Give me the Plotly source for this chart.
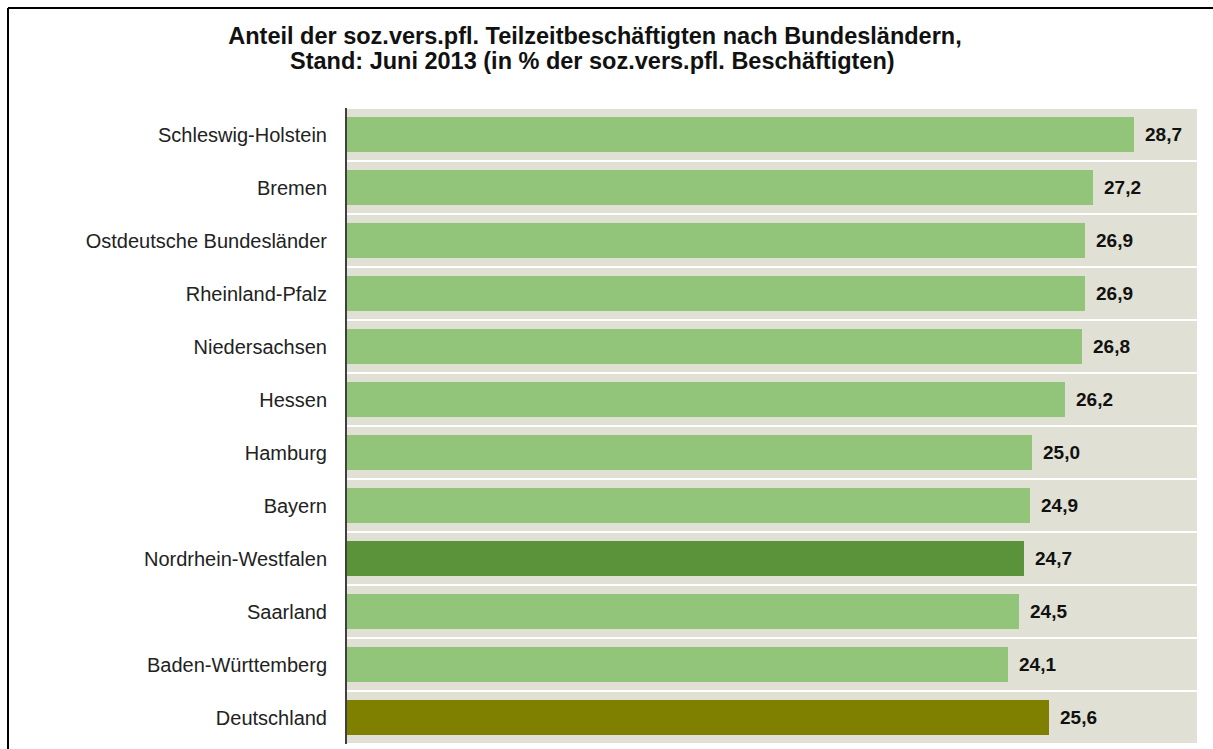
import plotly.graph_objects as go

categories = ["Schleswig-Holstein", "Bremen", "Ostdeutsche Bundesländer", "Rheinland-Pfalz",
              "Niedersachsen", "Hessen", "Hamburg", "Bayern", "Nordrhein-Westfalen",
              "Saarland", "Baden-Württemberg", "Deutschland"]
values = [28.7, 27.2, 26.9, 26.9, 26.8, 26.2, 25.0, 24.9, 24.7, 24.5, 24.1, 25.6]
value_labels = ["28,7", "27,2", "26,9", "26,9", "26,8", "26,2", "25,0", "24,9", "24,7", "24,5", "24,1", "25,6"]
title_line1 = "Anteil der soz.vers.pfl. Teilzeitbeschäftigten nach Bundesländern,"
title_line2 = "Stand: Juni 2013 (in % der soz.vers.pfl. Beschäftigten)"

LIGHT = "#92c57a"
DARK = "#5b933b"
OLIVE = "#808000"
bar_colors = [DARK if c == "Nordrhein-Westfalen" else OLIVE if c == "Deutschland" else LIGHT
              for c in categories]

X_MAX = 31
W, H = 1213, 749
ML, MR, MT, MB = 347, 16, 108, 5
FONT = "Liberation Sans, Arial, sans-serif"
TITLE_FONT = dict(family=FONT, size=23.5, color="#111111", weight="bold")

fig = go.Figure()
fig.add_trace(go.Bar(
    y=categories, x=[X_MAX] * len(categories), orientation="h",
    width=0.95, marker=dict(color="#e0e0d4", line=dict(width=0)),
    hoverinfo="skip", showlegend=False))
fig.add_trace(go.Bar(
    y=categories, x=values, orientation="h",
    width=0.65, marker=dict(color=bar_colors, line=dict(width=0)),
    showlegend=False))

for c, v, t in zip(categories, values, value_labels):
    fig.add_annotation(x=v, y=c, text=t, showarrow=False, xanchor="left", xshift=9,
                       font=dict(family=FONT, size=19, color="#111111", weight="bold"))

pw = W - ML - MR
ph = H - MT - MB
bx = (8 - ML) / pw
by = (H - MB - 8) / ph
fig.add_shape(type="line", xref="paper", yref="paper", x0=bx, x1=(W - ML) / pw + 0.01, y0=by, y1=by,
              line=dict(color="black", width=2))
fig.add_shape(type="line", xref="paper", yref="paper", x0=bx, x1=bx, y0=by, y1=-0.1,
              line=dict(color="black", width=2))

# second title line
fig.add_annotation(xref="paper", yref="paper", x=(592 - ML) / pw, y=(H - MB - 61) / ph,
                   xanchor="center", yanchor="middle", showarrow=False,
                   text=title_line2, font=TITLE_FONT)

fig.update_layout(
    width=W, height=H,
    margin=dict(l=ML, r=MR, t=MT, b=MB),
    paper_bgcolor="white", plot_bgcolor="white",
    barmode="overlay", bargap=0,
    title=dict(
        text=title_line1,
        x=595 / W, xanchor="center", xref="container",
        y=1 - 36 / H, yanchor="middle", yref="container",
        font=TITLE_FONT),
    xaxis=dict(range=[0, X_MAX], visible=False, fixedrange=True),
    yaxis=dict(autorange="reversed", showline=True, linecolor="#404040", linewidth=2,
               ticks="", ticklabelstandoff=14, showgrid=False,
               tickfont=dict(family=FONT, size=20, color="#222222")),
)

fig.write_html("out.html")
